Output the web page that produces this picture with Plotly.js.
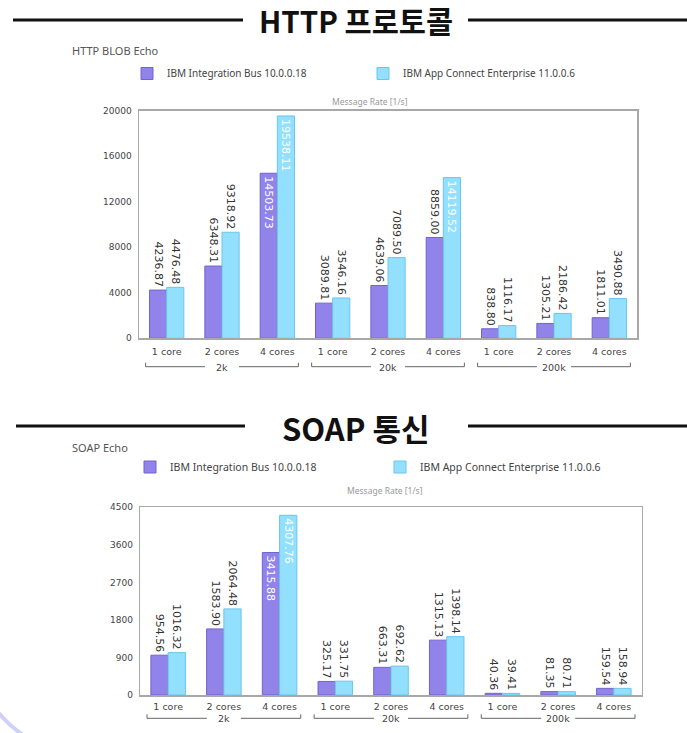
<!DOCTYPE html>
<html><head><meta charset="utf-8">
<script src="https://cdn.plot.ly/plotly-3.0.1.min.js"></script>
<style>html,body{margin:0;padding:0;background:#fff;}#chart{width:687px;height:733px;}</style>
</head><body><div id="chart"></div>
<script>
// ---- data ----
const coreLabels = ['1 core','2 cores','4 cores','1 core','2 cores','4 cores','1 core','2 cores','4 cores'];
const groupLabels = ['2k','20k','200k'];
const groupSize = 3;
const seriesNames = ['IBM Integration Bus 10.0.0.18','IBM App Connect Enterprise 11.0.0.6'];
const httpIIB = [4236.87, 6348.31, 14503.73, 3089.81, 4639.06, 8859.00, 838.80, 1305.21, 1811.01];
const httpACE = [4476.48, 9318.92, 19538.11, 3546.16, 7089.50, 14119.52, 1116.17, 2186.42, 3490.88];
const soapIIB = [954.56, 1583.90, 3415.88, 325.17, 663.31, 1315.13, 40.36, 81.35, 159.54];
const soapACE = [1016.32, 2064.48, 4307.76, 331.75, 692.62, 1398.14, 39.41, 80.71, 158.94];
const httpTicks = [0, 4000, 8000, 12000, 16000, 20000];
const soapTicks = [0, 900, 1800, 2700, 3600, 4500];
const headerTexts = ['HTTP 프로토콜', 'SOAP 통신'];
const chartTitles = ['HTTP BLOB Echo', 'SOAP Echo'];
const axisCaption = 'Message Rate [1/s]';

// ---- helpers ----
const W = 687, H = 733;
const px = x => x / W;
const py = y => 1 - y / H;
const idx = coreLabels.map((_, i) => i);
const purple = '#9183e9', purpleLine = '#7263cf';
const cyan = '#92e0fd', cyanLine = '#6cc5ea';
const tickFont = {family: 'DejaVu Sans', size: 9.5, color: '#444'};

function barTrace(vals, name, color, lineColor, xa, ya, leg, ymax) {
  return {
    type: 'bar', x: idx, y: vals, name: name,
    xaxis: xa, yaxis: ya, legend: leg,
    marker: {color: color, line: {color: lineColor, width: 1}},
    texttemplate: '%{y:.2f}', textangle: 90,
    textposition: vals.map(v => v / ymax > 0.6 ? 'inside' : 'outside'),
    insidetextanchor: 'end',
    insidetextfont: {family: 'DejaVu Sans', size: 11, color: '#ffffff'},
    outsidetextfont: {family: 'DejaVu Sans', size: 11, color: '#333'},
    constraintext: 'none', cliponaxis: false, hoverinfo: 'skip'
  };
}
const hMax = httpTicks[httpTicks.length - 1];
const sMax = soapTicks[soapTicks.length - 1];
const data = [
  barTrace(httpIIB, seriesNames[0], purple, purpleLine, 'x', 'y', 'legend', hMax),
  barTrace(httpACE, seriesNames[1], cyan, cyanLine, 'x', 'y', 'legend', hMax),
  barTrace(soapIIB, seriesNames[0], purple, purpleLine, 'x2', 'y2', 'legend2', sMax),
  barTrace(soapACE, seriesNames[1], cyan, cyanLine, 'x2', 'y2', 'legend2', sMax)
];

function xAxis(d0, d1, anchor, standoff) {
  return {domain: [px(d0), px(d1)], anchor: anchor, range: [-0.5, coreLabels.length - 0.5],
    tickvals: idx, ticktext: coreLabels, ticks: '', showgrid: false, zeroline: false,
    showline: true, linecolor: '#a8a8a8', linewidth: 1.5, mirror: true,
    tickfont: tickFont, ticklabelstandoff: standoff, fixedrange: true};
}
function yAxis(top, bottom, anchor, ticks) {
  return {domain: [py(bottom), py(top)], anchor: anchor, range: [0, ticks[ticks.length - 1]],
    tickvals: ticks, ticktext: ticks.map(String), ticks: '', showgrid: false, zeroline: false,
    showline: true, linecolor: '#a8a8a8', linewidth: 1.5, mirror: true,
    tickfont: {family: 'DejaVu Sans', size: 9, color: '#444'}, ticklabelstandoff: 4, fixedrange: true};
}

const shapes = [];
const annotations = [];

// headers with rules
function header(text, yc, lineY, l0, l1, r0, r1, size) {
  annotations.push({text: text, xref: 'paper', yref: 'paper', x: px(356), y: py(yc),
    xanchor: 'center', yanchor: 'middle', showarrow: false, height: 34, valign: 'middle',
    borderpad: 0,
    font: {family: 'Noto Sans CJK KR', size: size, color: '#111', weight: 700}});
  [[l0, l1], [r0, r1]].forEach(s => shapes.push({type: 'line', xref: 'paper', yref: 'paper',
    x0: px(s[0]), x1: px(s[1]), y0: py(lineY), y1: py(lineY), line: {color: '#111', width: 3}}));
}
header(headerTexts[0], 20.5, 20, 13, 243, 468, 690, 29.5);
header(headerTexts[1], 427, 426, 16, 245, 468, 690, 31);

function smallText(text, x, y, anchor, font) {
  annotations.push({text: text, xref: 'paper', yref: 'paper', x: px(x), y: py(y),
    xanchor: anchor, yanchor: 'middle', showarrow: false, font: font});
}
smallText(chartTitles[0], 70, 50, 'left', {family: 'Noto Sans', size: 11, color: '#555'});
smallText(chartTitles[1], 70, 447.5, 'left', {family: 'Noto Sans', size: 11, color: '#555'});
smallText(axisCaption, 370, 101, 'center', {family: 'Noto Sans', size: 8.5, color: '#999'});
smallText(axisCaption, 385, 490, 'center', {family: 'Noto Sans', size: 8.5, color: '#999'});

// group brackets
function brackets(xref, lineY, catPx) {
  const half = 0.38, gap = 17 / catPx;
  groupLabels.forEach((g, gi) => {
    const s = gi * groupSize, e = s + groupSize - 1, c = (s + e) / 2;
    const ln = (x0, x1, y0, y1) => shapes.push({type: 'line', xref: xref, yref: 'paper',
      x0: x0, x1: x1, y0: py(y0), y1: py(y1), line: {color: '#666', width: 1}});
    ln(s - half, c - gap, lineY, lineY);
    ln(c + gap, e + half, lineY, lineY);
    ln(s - half, s - half, lineY - 4, lineY);
    ln(e + half, e + half, lineY - 4, lineY);
    annotations.push({text: g, xref: xref, yref: 'paper', x: c, y: py(lineY + 0.5),
      xanchor: 'center', yanchor: 'middle', showarrow: false, font: tickFont});
  });
}
brackets('x', 366.7, 55.3);
brackets('x2', 718.3, 55.7);

// corner decoration arc
shapes.push({type: 'path', xref: 'paper', yref: 'paper', layer: 'below',
  path: `M ${px(-3)},${py(711)} Q ${px(8.6)},${py(725.3)} ${px(23)},${py(735)}`,
  line: {color: '#cfd0f6', width: 4}});

const legendBase = {orientation: 'h', xanchor: 'left', yanchor: 'middle',
  entrywidthmode: 'pixels', bgcolor: 'rgba(0,0,0,0)', borderwidth: 0,
  tracegroupgap: 0, itemclick: false, itemdoubleclick: false};

const layout = {
  width: W, height: H, margin: {l: 0, r: 0, t: 0, b: 0},
  paper_bgcolor: '#fff', plot_bgcolor: '#fff',
  barmode: 'group', bargap: 0.38, bargroupgap: 0,
  showlegend: true,
  legend: Object.assign({}, legendBase, {x: px(127), y: py(73.5), entrywidth: 191,
    font: {family: 'Noto Sans', size: 10, color: '#444'}}),
  legend2: Object.assign({}, legendBase, {x: px(130), y: py(467), entrywidth: 205,
    font: {family: 'Noto Sans', size: 10.5, color: '#444'}}),
  xaxis: xAxis(139, 637, 'y', 4),
  yaxis: yAxis(110.7, 338.3, 'x', httpTicks),
  xaxis2: xAxis(140.3, 641.7, 'y2', 2),
  yaxis2: yAxis(507.3, 695, 'x2', soapTicks),
  shapes: shapes, annotations: annotations
};
Plotly.newPlot('chart', data, layout, {displayModeBar: false, staticPlot: true});
</script></body></html>
